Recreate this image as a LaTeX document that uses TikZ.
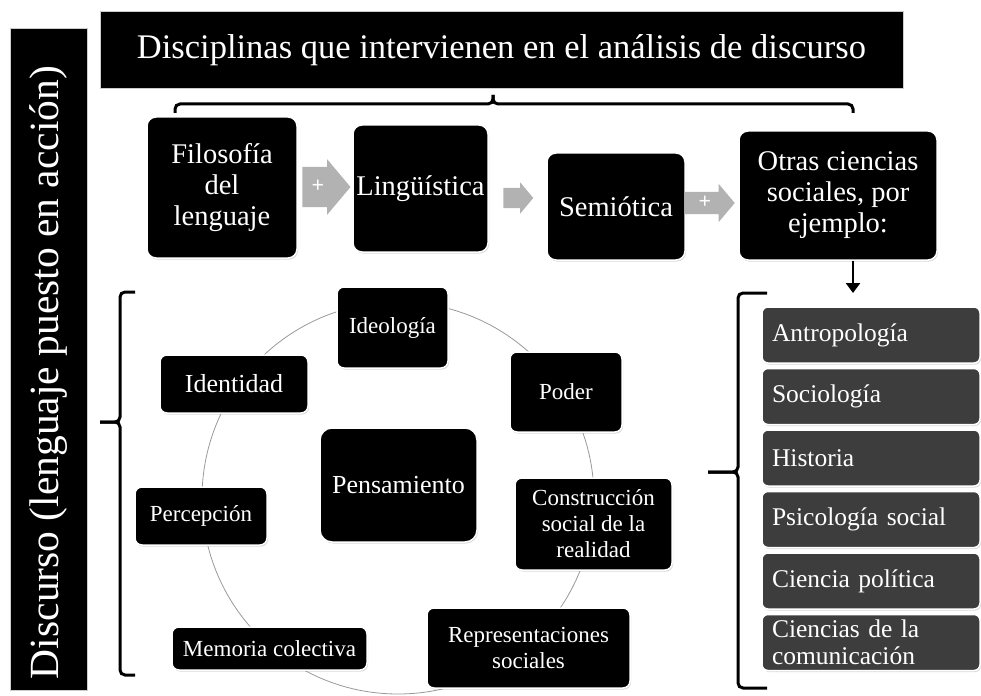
\documentclass[tikz,border=0pt]{standalone}
\usepackage{fontspec}
\setmainfont{Liberation Serif}
\usetikzlibrary{arrows.meta, shapes.arrows, shadows}

\begin{document}
\begin{tikzpicture}[x=1pt, y=-1pt,
  blk/.style={fill=black, text=white, draw=white, line width=1.5pt, rounded corners=9pt, align=center, inner sep=2pt,
    drop shadow={shadow xshift=1pt, shadow yshift=-1.5pt, opacity=0.3}},
  topbox/.style={blk, font=\fontsize{28.5}{31}\selectfont},
  cyc/.style={blk, rounded corners=7pt, font=\fontsize{23}{26}\selectfont},
  lst/.style={fill=black!76, text=white, draw=white, line width=1.5pt, rounded corners=6pt, minimum width=218, minimum height=56,
    text width=198, inner ysep=1pt, align=left, font=\fontsize{25.5}{27}\selectfont,
    drop shadow={shadow xshift=1pt, shadow yshift=-1.5pt, opacity=0.3}},
  banner/.style={fill=black, text=white, draw=gray!40, line width=1pt},
  plusarr/.style={single arrow, fill=gray!60, text=white, inner xsep=0pt, text height=0pt, text depth=0pt,
    single arrow tip angle=100, font=\bfseries\fontsize{22}{22}\selectfont},
  brk/.style={line width=3pt, rounded corners=5pt},
  ringline/.style={gray!80, line width=0.8pt},
  downarr/.style={-{Triangle[length=10pt, width=14pt]}, line width=2.5pt}
]
\useasboundingbox (0,0) rectangle (981,695);

% banners
\node[banner, minimum width=803, minimum height=77, font=\fontsize{34.5}{34.5}\selectfont] (title) at (501.5,50.5)
  {Disciplinas que intervienen en el análisis de discurso};
\node[banner, rotate=90, minimum width=661, minimum height=77, font=\fontsize{41.5}{41.5}\selectfont] (disc) at (48.5,359.5)
  {Discurso (lenguaje puesto en acción)\hspace*{26pt}};

% top brace
\draw[brk] (175,113) |- (493,104) -- (493,95);
\draw[brk] (493,95) -- (493,104) -| (853,113);

% disciplines
\node[topbox, minimum width=150, minimum height=141] (filo) at (222,187.5) {Filosofía\\del\\lenguaje};
\node[topbox, minimum width=135, minimum height=127] (ling) at (420.5,188.5) {Lingüística};
\node[topbox, minimum width=138, minimum height=107] (semi) at (616,206.5) {Semiótica};
\node[topbox, minimum width=198, minimum height=129] (otras) at (838,195.5) {Otras ciencias\\sociales, por\\ejemplo:};

\node[plusarr, minimum height=48, inner ysep=20pt, single arrow head extend=7.5pt] (a1) at (318,187) {\raisebox{-0.25em}{+}};
\node[plusarr, minimum height=30, inner ysep=10pt, single arrow head extend=5.5pt] (a2) at (514,198) {};
\node[plusarr, minimum height=50, inner ysep=11pt, single arrow head extend=8pt] (a3) at (705,203) {\raisebox{-0.25em}{+}};

\coordinate (lst_top) at (853,293);
\draw[downarr] (otras.south -| lst_top) -- (lst_top);

% cycle
\coordinate (ring) at (398,498);
\draw[ringline] (ring) circle[radius=196];

\node[cyc, minimum width=111, minimum height=81] (ideo) at (392.5,327.5) {Ideología};
\node[cyc, minimum width=112, minimum height=80] (poder) at (566,392) {Poder};
\node[cyc, minimum width=157, minimum height=92] (constr) at (593.5,524) {Construcción\\social de la\\realidad};
\node[cyc, minimum width=203, minimum height=80] (repr) at (528.5,648) {Representaciones\\sociales};
\node[cyc, minimum width=195, minimum height=43] (memo) at (269.5,648.5) {Memoria colectiva};
\node[cyc, minimum width=132, minimum height=58] (perc) at (201,516) {Percepción};
\node[cyc, minimum width=148, minimum height=58, font=\fontsize{26}{28}\selectfont] (ident) at (234,384) {Identidad};
\node[blk, rounded corners=12pt, minimum width=157, minimum height=114, font=\fontsize{26}{28}\selectfont] (pens) at (398.5,485) {Pensamiento};

\draw[brk] (135,292) -| (120,422) -- (100,422);
\draw[brk] (100,422) -| (120,675) -- (135,675);

% examples
\foreach \t [count=\i] in {Antropología, Sociología, Historia, Psicología social, Ciencia política, {Ciencias de la\\comunicación}}
  \node[lst] (l\i) at (871,{335+61.5*(\i-1)}) {\t};

\draw[brk] (767,293) -| (738,472) -- (708,472);
\draw[brk] (708,472) -| (738,688) -- (767,688);

\end{tikzpicture}
\end{document}
